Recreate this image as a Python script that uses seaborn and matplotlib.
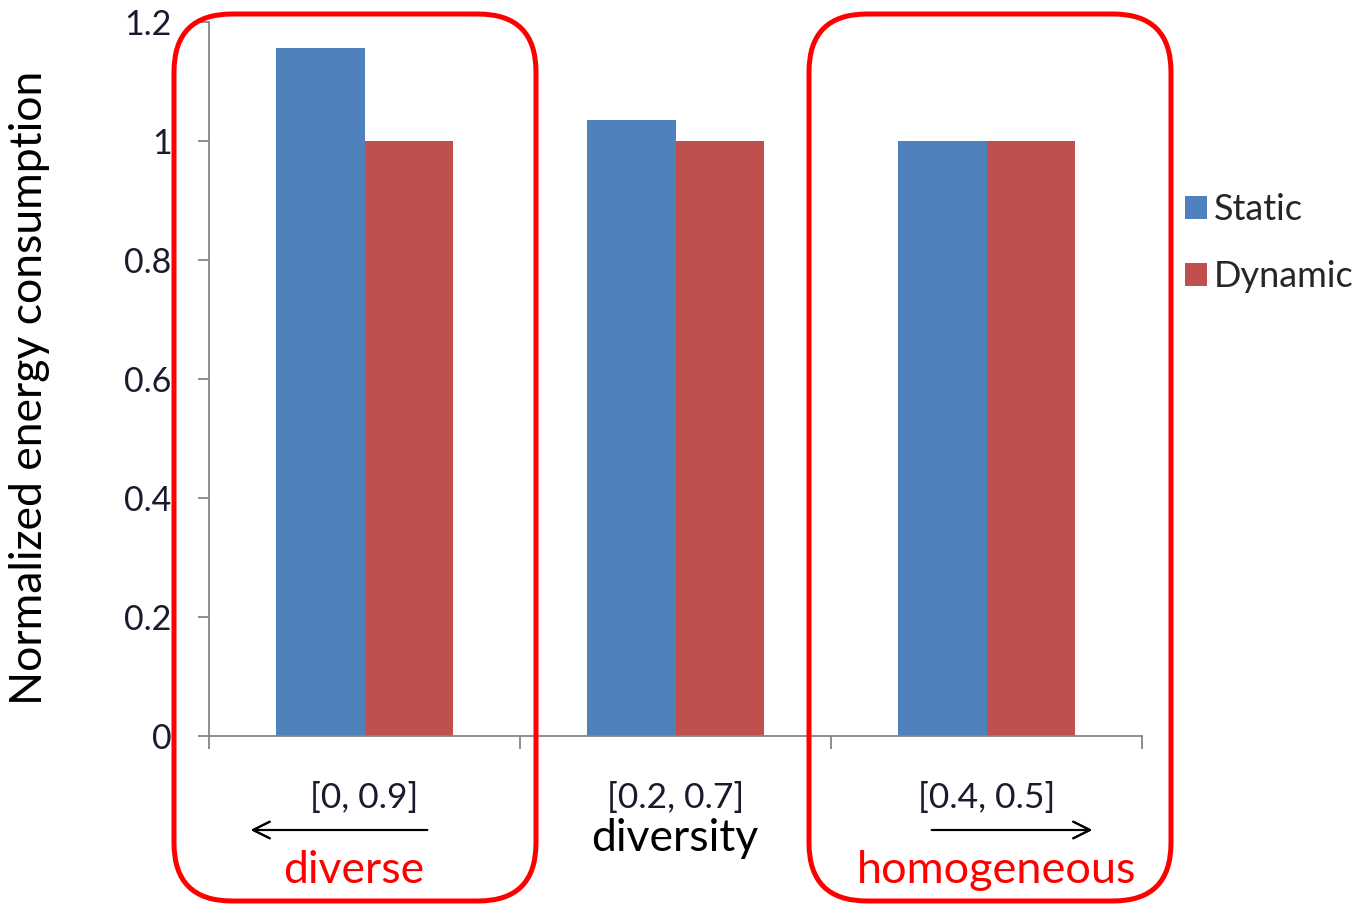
import matplotlib
matplotlib.use("Agg")
import matplotlib.pyplot as plt
from matplotlib.patches import FancyBboxPatch
from matplotlib.transforms import IdentityTransform
import seaborn as sns
import pandas as pd

# Energy consumption per diversity range, normalized to the dynamic scheme
ranges = ["[0, 0.9]", "[0.2, 0.7]", "[0.4, 0.5]"]
static_vals = [1.156, 1.035, 1.0]
dynamic_vals = [1.0, 1.0, 1.0]
schemes = ["Static", "Dynamic"]
y_ticks = [0, 0.2, 0.4, 0.6, 0.8, 1, 1.2]
y_tick_labels = ["0", "0.2", "0.4", "0.6", "0.8", "1", "1.2"]

df = pd.DataFrame({
    "range": ranges * 2,
    "scheme": [schemes[0]] * len(ranges) + [schemes[1]] * len(ranges),
    "energy": static_vals + dynamic_vals,
})

sns.set_theme(style="white")
plt.rcParams["font.family"] = ["Lato", "DejaVu Sans"]

W, H = 1362, 905
fig = plt.figure(figsize=(W / 100, H / 100), dpi=100)
ax = fig.add_axes([209 / W, 1 - 736 / H, (1142 - 209) / W, (736 - 22) / H])

palette = {"Static": "#4F81BD", "Dynamic": "#C0504D"}
sns.barplot(data=df, x="range", y="energy", hue="scheme", order=ranges,
            hue_order=schemes, palette=palette, width=0.57, gap=0,
            saturation=1, edgecolor="none", ax=ax, legend=True)

ax.set_xlim(-0.5, len(ranges) - 0.5)
ax.set_ylim(0, 1.2)
ax.set_yticks(y_ticks)
ax.set_yticklabels(y_tick_labels)
ax.set_xlabel("")
ax.set_ylabel("Normalized energy consumption", fontsize=32, color="black")
ax.yaxis.set_label_coords(-0.170, 0.488)

for s in ["top", "right"]:
    ax.spines[s].set_visible(False)
for s in ["left", "bottom"]:
    ax.spines[s].set_color("#868686")
    ax.spines[s].set_linewidth(1.3)

ax.tick_params(axis="y", which="major", direction="out", length=8, width=1.3,
               color="#868686", labelsize=24.5, pad=19, labelcolor="#1a1a2e", left=True)
ax.tick_params(axis="x", which="major", length=0, labelsize=25.5, pad=33,
               labelcolor="#1a1a2e", bottom=True)
ax.set_xticks([i - 0.5 for i in range(len(ranges) + 1)], minor=True)
ax.tick_params(axis="x", which="minor", direction="out", length=9, width=1.3,
               color="#868686", bottom=True)

# Legend on the right
handles, labels = ax.get_legend_handles_labels()
ax.legend(handles, labels, loc="center left", bbox_to_anchor=(1185 / W, 1 - 243 / H),
          bbox_transform=fig.transFigure, frameon=False, fontsize=26,
          handlelength=0.6, handleheight=0.6, handletextpad=0.2,
          labelspacing=0.95, borderaxespad=0, borderpad=0)

# Axis title and direction annotations
fig.text(675 / W, 1 - 838 / H, "diversity", fontsize=32, color="black",
         ha="center", va="center")
fig.text(354 / W, 1 - 870 / H, "diverse", fontsize=32, color="#FF0000",
         ha="center", va="center")
fig.text(997 / W, 1 - 870 / H, "homogeneous", fontsize=32.5, color="#FF0000",
         ha="center", va="center")

fig.add_artist(plt.annotate("", xy=(248 / W, 1 - 830 / H), xytext=(430 / W, 1 - 830 / H),
                            xycoords="figure fraction", textcoords="figure fraction",
                            arrowprops=dict(arrowstyle="->", color="black", lw=1.5,
                                            mutation_scale=30)))
fig.add_artist(plt.annotate("", xy=(1095 / W, 1 - 830 / H), xytext=(929 / W, 1 - 830 / H),
                            xycoords="figure fraction", textcoords="figure fraction",
                            arrowprops=dict(arrowstyle="->", color="black", lw=1.5,
                                            mutation_scale=30)))

# Rounded highlight frames around the extreme ranges (pixel units)
for x0, x1 in [(174, 536), (809, 1171)]:
    y0, y1 = 14, 901
    box = FancyBboxPatch((x0, H - y1), x1 - x0, y1 - y0,
                         boxstyle="round,pad=0,rounding_size=58",
                         transform=IdentityTransform(), fill=False,
                         edgecolor="#FF0000", linewidth=3.6, zorder=10)
    fig.add_artist(box)

fig.savefig("out.png", dpi=100)
